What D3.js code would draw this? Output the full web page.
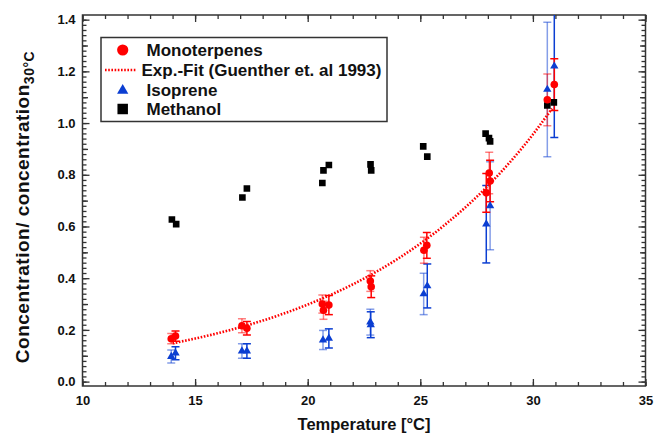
<!DOCTYPE html>
<html>
<head>
<meta charset="utf-8">
<script src="https://cdn.jsdelivr.net/npm/d3@7"></script>
<style>
  body { margin: 0; background: #fff; overflow: hidden; }
  svg { display: block; }
  text { font-family: "Liberation Sans", Arial, sans-serif; font-weight: bold; fill: #111; }
</style>
</head>
<body>
<div id="chart"></div>
<script>
// values

// Monoterpenes (run A = pale error bar, run B = full error bar)
var monoT   = [13.94, 14.13, 17.08, 17.30, 20.65, 20.70, 20.94, 22.78, 22.82, 25.16, 25.29, 27.93, 28.06, 28.10, 30.64, 30.95];
var monoY   = [0.166, 0.176, 0.216, 0.206, 0.300, 0.276, 0.296, 0.389, 0.367, 0.508, 0.527, 0.730, 0.807, 0.776, 1.090, 1.149];
var monoErr = [0.020, 0.020, 0.027, 0.026, 0.035, 0.035, 0.037, 0.040, 0.042, 0.050, 0.050, 0.075, 0.080, 0.080, 0.100, 0.100];
var monoRun = ["A", "B", "A", "B", "A", "A", "B", "A", "B", "A", "B", "B", "A", "B", "A", "B"];

// Isoprene
var isoT   = [13.94, 14.13, 17.08, 17.30, 20.68, 20.94, 22.78, 22.80, 25.15, 25.31, 27.93, 28.10, 30.64, 30.95];
var isoY   = [0.097, 0.110, 0.118, 0.118, 0.161, 0.167, 0.230, 0.220, 0.339, 0.370, 0.609, 0.680, 1.130, 1.220];
var isoErr = [0.025, 0.025, 0.028, 0.028, 0.037, 0.037, 0.050, 0.050, 0.080, 0.085, 0.150, 0.170, 0.260, 0.276];
var isoRun = ["A", "B", "A", "B", "A", "B", "A", "B", "A", "B", "B", "A", "A", "B"];

// Methanol
var methT = [13.97, 14.16, 17.10, 17.30, 20.65, 20.70, 20.94, 22.79, 22.82, 25.13, 25.31, 27.90, 28.05, 28.10, 30.64, 30.93];
var methY = [0.627, 0.609, 0.712, 0.747, 0.768, 0.817, 0.838, 0.840, 0.817, 0.910, 0.870, 0.959, 0.942, 0.929, 1.068, 1.080];

// Exp.-Fit curve, read at a few temperatures
var fitT = [14, 16, 18, 20, 22, 24, 26, 28, 30, 30.85];
var fitY = [0.148, 0.187, 0.236, 0.298, 0.376, 0.475, 0.600, 0.757, 0.956, 1.056];

var xTicks = [10, 15, 20, 25, 30, 35];
var yTicks = [0.0, 0.2, 0.4, 0.6, 0.8, 1.0, 1.2, 1.4];

var width = 654, height = 437;
var margin = { top: 15, right: 8.5, bottom: 51, left: 82.5 };
var innerWidth = width - margin.left - margin.right;
var innerHeight = height - margin.top - margin.bottom;

var red = "#ff0000", blue = "#0b3ed2";

var svg = d3.select("#chart")
    .append("svg")
    .attr("width", width)
    .attr("height", height);

var g = svg.append("g")
    .attr("transform", "translate(" + margin.left + "," + margin.top + ")");

var xScale = d3.scaleLinear().domain([10, 35]).range([0, innerWidth]);
var yScale = d3.scaleLinear().domain([-0.017, 1.418]).range([innerHeight, 0]);

svg.append("defs").append("clipPath").attr("id", "clip")
    .append("rect").attr("width", innerWidth).attr("height", innerHeight);

// ticks (all inward, on all four sides)
var xMinor = d3.range(10, 36, 1);
var yMinor = d3.range(0, 141, 2).map(d => d / 100);
var yMid = d3.range(1, 14, 2).map(d => d / 10);

function noLabels(axis) { return axis.tickFormat(""); }

g.append("g").attr("class", "x-minor").attr("transform", "translate(0," + innerHeight + ")")
    .call(noLabels(d3.axisBottom(xScale).tickValues(xMinor).tickSize(-4)));
g.append("g").attr("class", "x-major").attr("transform", "translate(0," + innerHeight + ")")
    .call(d3.axisBottom(xScale).tickValues(xTicks).tickSize(-7).tickPadding(10).tickFormat(d3.format("d")));
g.append("g").attr("class", "x-top")
    .call(noLabels(d3.axisTop(xScale).tickValues(xMinor).tickSize(-4)));
g.append("g").attr("class", "x-top")
    .call(noLabels(d3.axisTop(xScale).tickValues(xTicks).tickSize(-7)));

g.append("g").attr("class", "y-minor")
    .call(noLabels(d3.axisLeft(yScale).tickValues(yMinor).tickSize(-4)));
g.append("g").attr("class", "y-minor")
    .call(noLabels(d3.axisLeft(yScale).tickValues(yMid).tickSize(-5.5)));
g.append("g").attr("class", "y-major")
    .call(d3.axisLeft(yScale).tickValues(yTicks).tickSize(-7).tickPadding(7).tickFormat(d3.format(".1f")));
g.append("g").attr("class", "y-right").attr("transform", "translate(" + innerWidth + ",0)")
    .call(noLabels(d3.axisRight(yScale).tickValues(yMinor).tickSize(-4)));
g.append("g").attr("class", "y-right").attr("transform", "translate(" + innerWidth + ",0)")
    .call(noLabels(d3.axisRight(yScale).tickValues(yMid).tickSize(-5.5)));
g.append("g").attr("class", "y-right").attr("transform", "translate(" + innerWidth + ",0)")
    .call(noLabels(d3.axisRight(yScale).tickValues(yTicks).tickSize(-7)));

g.selectAll(".domain").remove();
// drop the empty labels of the label-less tick rows
g.selectAll(".tick text").filter(function () { return this.textContent === ""; }).remove();
g.selectAll(".tick line").attr("stroke", "#333").attr("stroke-width", 1.3);
g.selectAll(".tick text").attr("font-size", 13).attr("fill", "#111")
    .style("font-family", "'Liberation Sans', Arial, sans-serif").style("font-weight", "bold");

g.append("rect")
    .attr("width", innerWidth).attr("height", innerHeight)
    .attr("fill", "none").attr("stroke", "#333").attr("stroke-width", 1.5);

// data layer
var plot = g.append("g").attr("clip-path", "url(#clip)");

function rows(T, Y, E, R) {
    return T.map((t, i) => ({ t: t, y: Y[i], e: E ? E[i] : 0, run: R ? R[i] : "B" }));
}
var mono = rows(monoT, monoY, monoErr, monoRun);
var iso = rows(isoT, isoY, isoErr, isoRun);
var meth = rows(methT, methY);

function errorBars(data, color) {
    var eb = plot.append("g").selectAll("g").data(data).enter().append("g")
        .attr("stroke", color)
        .attr("stroke-opacity", d => d.run === "A" ? 0.5 : 1)
        .attr("stroke-width", 1.5);
    eb.append("line")
        .attr("x1", d => xScale(d.t)).attr("x2", d => xScale(d.t))
        .attr("y1", d => yScale(d.y - d.e)).attr("y2", d => yScale(d.y + d.e));
    eb.append("line")
        .attr("x1", d => xScale(d.t) - 4).attr("x2", d => xScale(d.t) + 4)
        .attr("y1", d => yScale(d.y + d.e)).attr("y2", d => yScale(d.y + d.e));
    eb.append("line")
        .attr("x1", d => xScale(d.t) - 4).attr("x2", d => xScale(d.t) + 4)
        .attr("y1", d => yScale(d.y - d.e)).attr("y2", d => yScale(d.y - d.e));
}
errorBars(iso, blue);
errorBars(mono, red);

var fitLine = d3.line()
    .x((d, i) => xScale(d))
    .y((d, i) => yScale(fitY[i]))
    .curve(d3.curveMonotoneX);

plot.append("path")
    .attr("d", fitLine(fitT))
    .attr("fill", "none")
    .attr("stroke", red)
    .attr("stroke-width", 2.6)
    .attr("stroke-dasharray", "1.6,1.6");

plot.selectAll(".meth").data(meth).enter().append("path")
    .attr("class", "meth")
    .attr("d", d3.symbol(d3.symbolSquare, 44))
    .attr("transform", d => "translate(" + xScale(d.t) + "," + yScale(d.y) + ")")
    .attr("fill", "#000");

plot.selectAll(".iso").data(iso).enter().append("path")
    .attr("class", "iso")
    .attr("d", d3.symbol(d3.symbolTriangle, 30))
    .attr("transform", d => "translate(" + xScale(d.t) + "," + yScale(d.y) + ")")
    .attr("fill", blue);

plot.selectAll(".mono").data(mono).enter().append("circle")
    .attr("class", "mono")
    .attr("cx", d => xScale(d.t))
    .attr("cy", d => yScale(d.y))
    .attr("r", 3.8)
    .attr("fill", red);

// axis labels
svg.append("text")
    .attr("x", margin.left + innerWidth / 2)
    .attr("y", 430)
    .attr("text-anchor", "middle")
    .attr("font-size", 16.5)
    .text("Temperature [°C]");

var yLab = svg.append("text")
    .attr("transform", "translate(29,207) rotate(-90)")
    .attr("text-anchor", "middle")
    .attr("font-size", 19)
    .attr("letter-spacing", 0.5);
yLab.append("tspan").text("Concentration/ concentration");
yLab.append("tspan").attr("font-size", 14).attr("dy", 5).text("30°C");

// legend
var legend = svg.append("g");
legend.append("rect")
    .attr("x", 101).attr("y", 37.5).attr("width", 286).attr("height", 84)
    .attr("fill", "#fff").attr("stroke", "#333").attr("stroke-width", 1.5);

var legendItems = ["Monoterpenes", "Exp.-Fit (Guenther et. al 1993)", "Isoprene", "Methanol"];
var legendY = [50, 70, 89.5, 109];

legend.append("circle").attr("cx", 122.7).attr("cy", legendY[0]).attr("r", 5.6).attr("fill", red);
legend.append("line").attr("x1", 105).attr("x2", 137).attr("y1", legendY[1]).attr("y2", legendY[1])
    .attr("stroke", red).attr("stroke-width", 2.6).attr("stroke-dasharray", "1.6,1.6");
legend.append("path").attr("d", d3.symbol(d3.symbolTriangle, 55))
    .attr("transform", "translate(122.7," + (legendY[2] + 1) + ")").attr("fill", blue);
legend.append("path").attr("d", d3.symbol(d3.symbolSquare, 110))
    .attr("transform", "translate(122.7," + legendY[3] + ")").attr("fill", "#000");

legend.selectAll(".ltext").data(legendItems).enter().append("text")
    .attr("class", "ltext")
    .attr("x", (d, i) => i === 1 ? 141.5 : 146.5)
    .attr("y", (d, i) => legendY[i] + 6)
    .attr("font-size", 17)
    .text(d => d);
</script>
</body>
</html>
